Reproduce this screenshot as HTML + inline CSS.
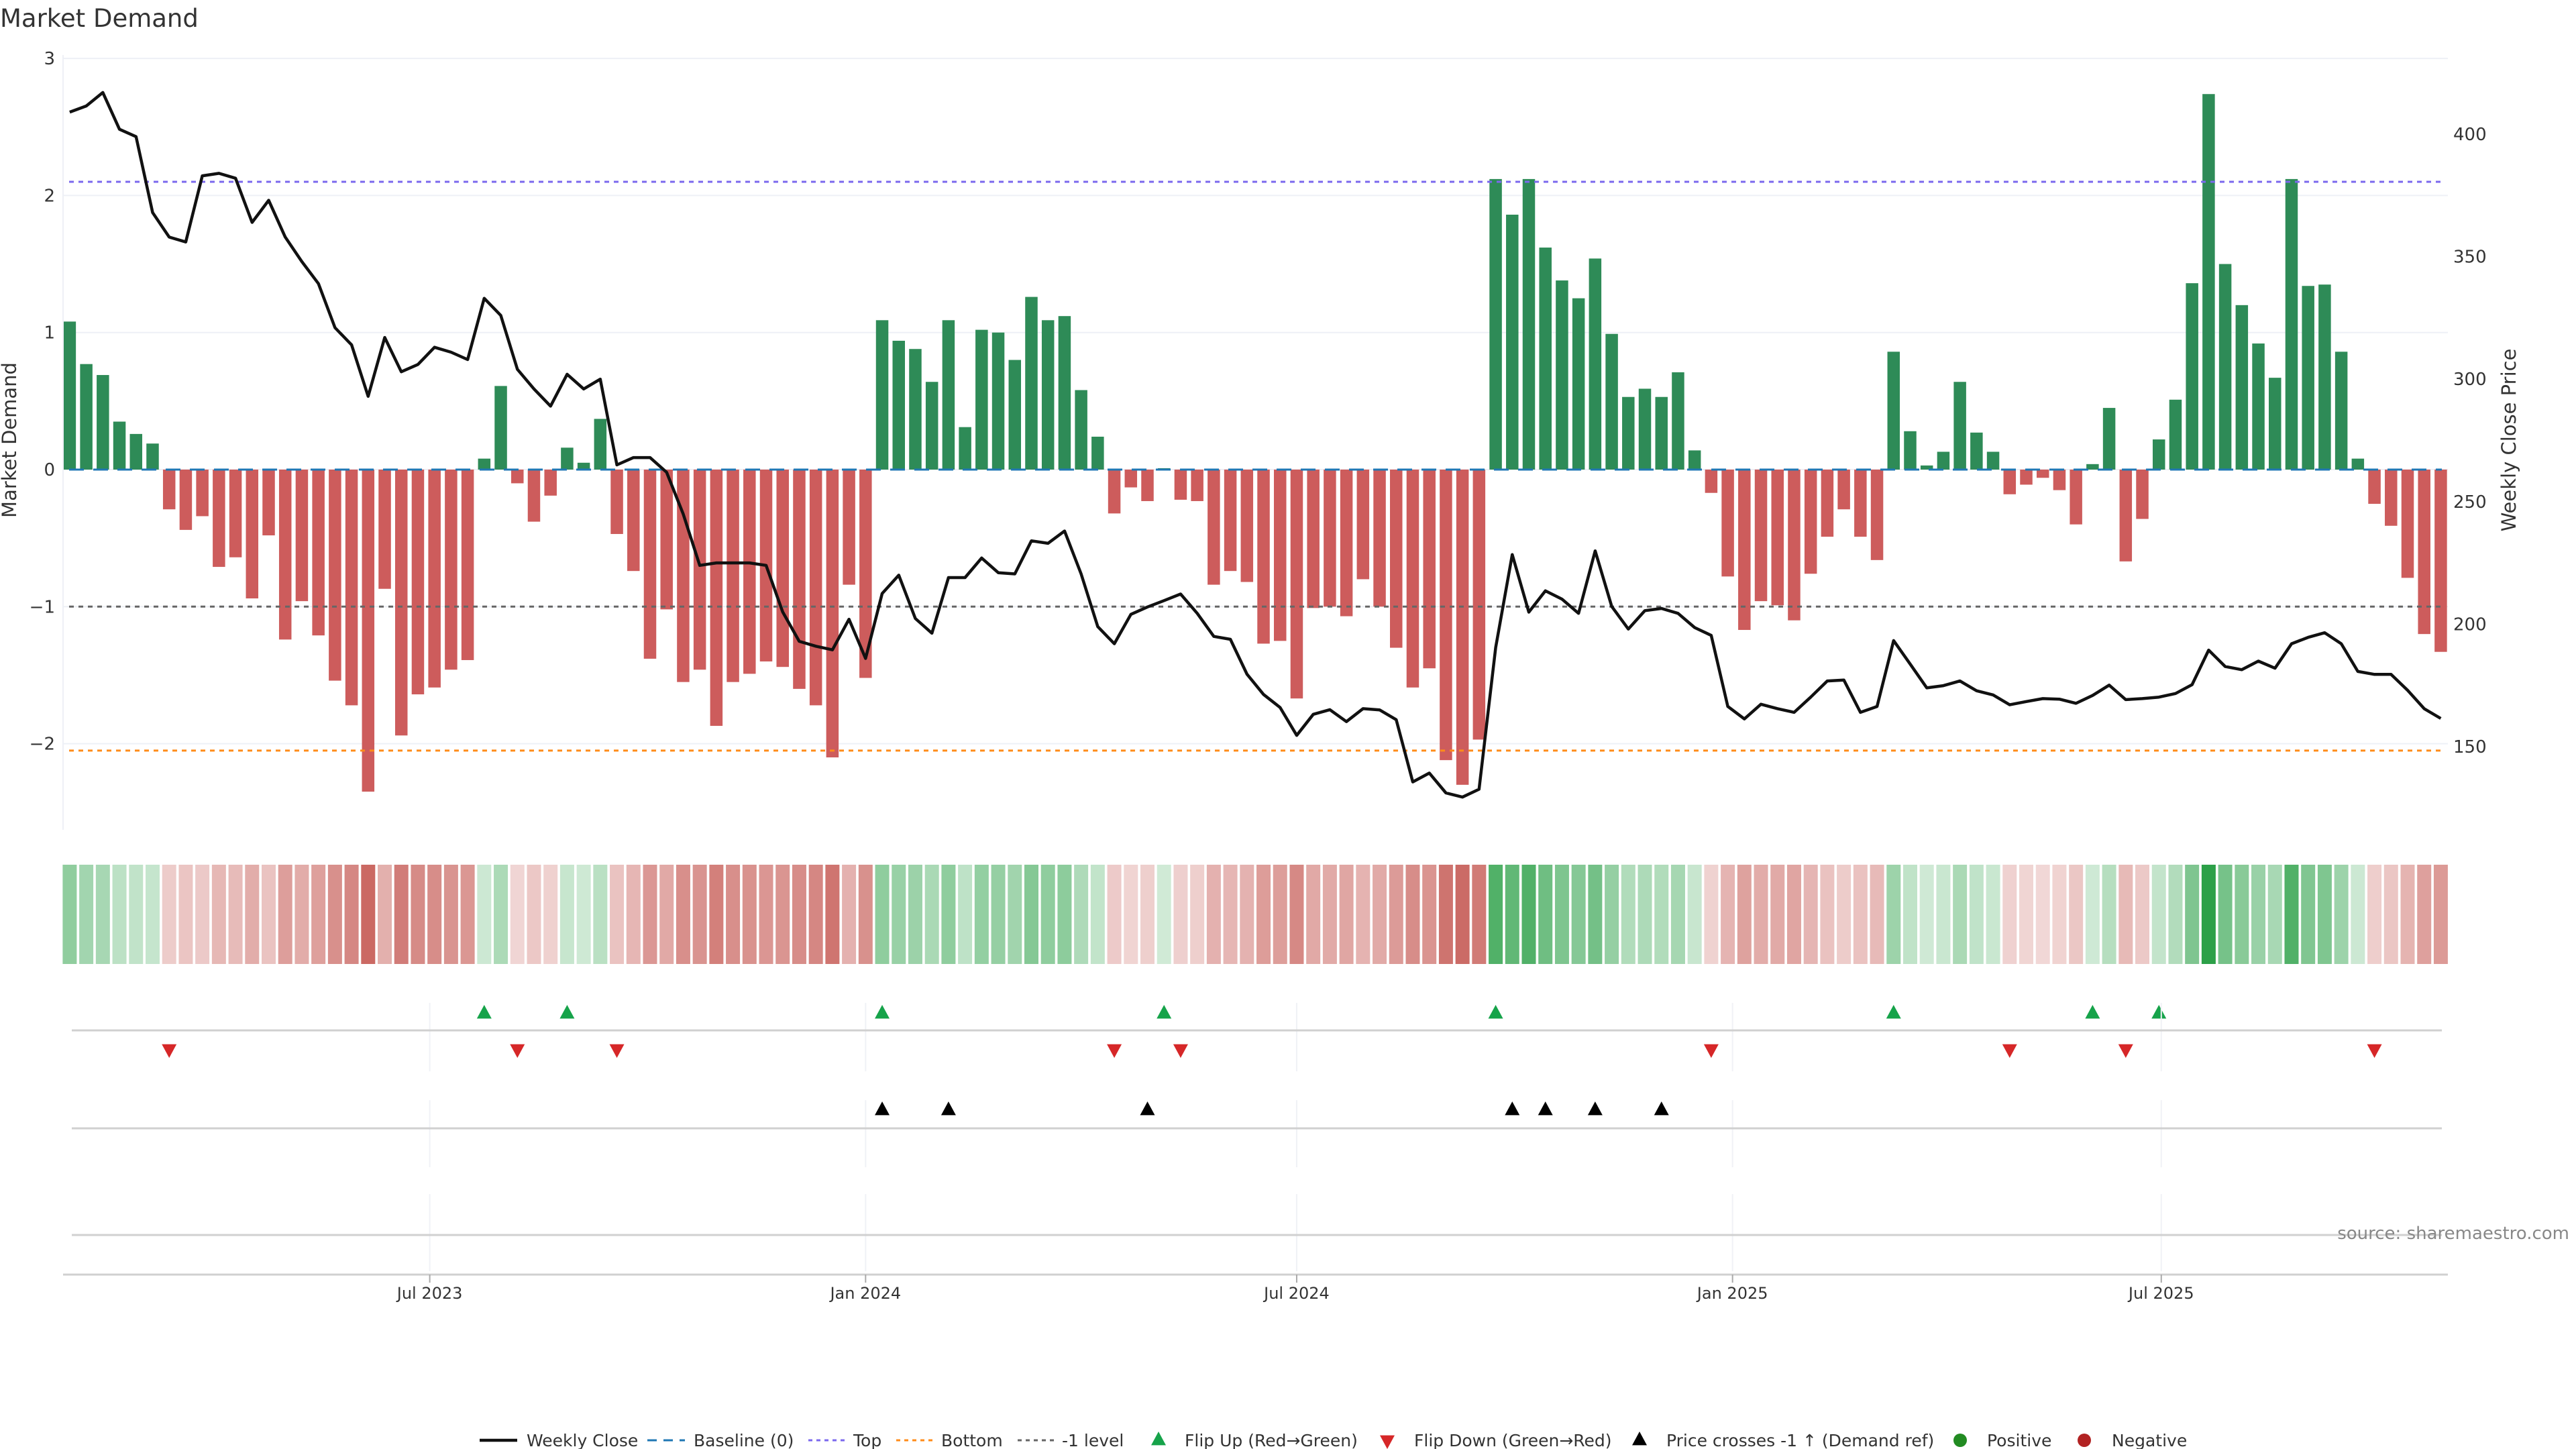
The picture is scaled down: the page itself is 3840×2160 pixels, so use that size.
<!DOCTYPE html>
<html><head><meta charset="utf-8">
<style>
html,body{margin:0;padding:0;background:#fff;}
svg{display:block;font-family:"DejaVu Sans","Liberation Sans",sans-serif;}
</style></head>
<body>
<svg id="chart" width="3840" height="2160" viewBox="0 0 3840 2160" xmlns="http://www.w3.org/2000/svg">
<text x="0" y="40" font-size="37" fill="#333">Market Demand</text>
<g id="grid"></g><g id="bars"></g><g id="refs"></g><g id="line"></g><g id="strip"></g><g id="markers"></g><g id="axes"></g>
<text transform="translate(24,656) rotate(-90)" text-anchor="middle" font-size="29" fill="#333">Market Demand</text>
<text transform="translate(3750,656) rotate(-90)" text-anchor="middle" font-size="29" fill="#333">Weekly Close Price</text>
<text x="3830" y="1847" text-anchor="end" font-size="26" fill="#888">source: sharemaestro.com</text>
<g id="legend"></g>
</svg>
<script>
const startDate = "2023-01-30";
const demand = [1.08,0.77,0.69,0.35,0.26,0.19,-0.29,-0.44,-0.34,-0.71,-0.64,-0.94,-0.48,-1.24,-0.96,-1.21,-1.54,-1.72,-2.35,-0.87,-1.94,-1.64,-1.59,-1.46,-1.39,0.08,0.61,-0.10,-0.38,-0.19,0.16,0.05,0.37,-0.47,-0.74,-1.38,-1.02,-1.55,-1.46,-1.87,-1.55,-1.49,-1.40,-1.44,-1.60,-1.72,-2.10,-0.84,-1.52,
1.09,0.94,0.88,0.64,1.09,0.31,1.02,1.00,0.80,1.26,1.09,1.12,0.58,0.24,-0.32,-0.13,-0.23,0.01,-0.22,-0.23,-0.84,-0.74,-0.82,-1.27,-1.25,-1.67,-1.01,-1.00,-1.07,-0.80,-1.00,-1.30,-1.59,-1.45,-2.12,-2.30,-1.97,
2.12,1.86,2.12,1.62,1.38,1.25,1.54,0.99,0.53,0.59,0.53,0.71,0.14,
-0.17,-0.78,-1.17,-0.96,-0.99,-1.10,-0.76,-0.49,-0.29,-0.49,-0.66,0.86,0.28,0.03,0.13,0.64,0.27,0.13,-0.18,-0.11,-0.06,-0.15,-0.40,0.04,0.45,-0.67,-0.36,0.22,0.51,1.36,2.74,1.50,1.20,0.92,0.67,2.12,1.34,1.35,0.86,0.08,-0.25,-0.41,-0.79,-1.20,-1.33];
const price = [409,411.5,417,402,399,368,358,356,383,384,382,364,373,358,348,339,321,314,293,317,303,306,313,311,308,333,326,304,296,289,302,296,300,265,268,268,262,245,224,225,225,225,224,205,193,191,189.5,202,186,
212.5,220,202.3,196.3,219,219,227,221,220.5,234,233,238,220.5,199,192,204,207,209.6,212.3,204.4,195,193.8,179.6,171.3,166,154.6,163.2,165.1,160.2,165.5,165,161,135.6,139.2,131.1,129.4,132.6,
190.5,228.4,204.9,213.6,210.2,204.4,229.9,207.2,198,205.5,206.4,204.4,198.6,
195.4,166.4,161.3,167.3,165.5,164,170.2,176.8,177.2,164,166.4,193.3,183.7,174,174.9,176.8,172.8,171.1,167.1,168.4,169.6,169.4,167.7,170.9,175.1,169.2,169.6,170.2,171.7,175.3,189.4,182.7,181.4,184.9,182,192,194.6,196.5,192,180.7,179.5,179.5,173,165.5,161.5];
const leftTicks = [-2,-1,0,1,2,3];
const rightTicks = [150,200,250,300,350,400];
const xTickDates = ["2023-07-01","2024-01-01","2024-07-01","2025-01-01","2025-07-01"];
const xTickLabels = ["Jul 2023","Jan 2024","Jul 2024","Jan 2025","Jul 2025"];
const topLevel = 2.1, bottomLevel = -2.05, minusOneLevel = -1;
const priceRef = 206;

const NS="http://www.w3.org/2000/svg";
function mk(parent,tag,attrs){const e=document.createElementNS(NS,tag);for(const k in attrs)e.setAttribute(k,attrs[k]);document.getElementById(parent).appendChild(e);return e;}
const X0=94, X1=3649;
const t0=Date.parse(startDate+"T00:00:00Z");
function days(d){return (Date.parse(d+"T00:00:00Z")-t0)/86400000;}
function xDays(dd){return 103.9+dd*3.531;}
function xi(i){return xDays(i*7);}
function y(v){return 700-v*204.3;}
function yp(p){return 200+(400-p)*3.652;}
const bw=18.5;

// grid
leftTicks.forEach(v=>{
  const l=mk('grid','line',{x1:X0,x2:X1,y1:y(v),y2:y(v),stroke:'#eef0f6','stroke-width':2});
  
  
  const t=mk('axes','text',{x:82,y:y(v)+9,'text-anchor':'end','font-size':26,fill:'#333'});
  
  
  t.textContent=v<0?'\u2212'+Math.abs(v):String(v);
});
rightTicks.forEach(v=>{
  const t=mk('axes','text',{x:3657,y:yp(v)+9,'font-size':26,fill:'#333'});
  
  
  t.textContent=v;
});
const la=mk('axes','line',{x1:X0,x2:X0,y1:82,y2:1237,stroke:'#eef0f6','stroke-width':2});



// bars
demand.forEach((v,i)=>{
  const r=mk('bars','rect',{x:xi(i)-bw/2,y:Math.min(y(0),y(v)),width:bw,height:Math.abs(y(v)-y(0)),fill:v>=0?'#2e8b57':'#cd5c5c'});
  
  
});
// ref lines
function ref(v,color,dash,name){const l=mk('refs','line',{x1:103,x2:3640,y1:y(v),y2:y(v),stroke:color,'stroke-width':3,'stroke-dasharray':dash});
  
  }
ref(0,'#1f77b4','22 14','baseline-line');
ref(topLevel,'#7b68ee','7 7','top-level-line');
ref(bottomLevel,'#ff8c1a','7 7','bottom-level-line');
ref(minusOneLevel,'#666','7 7','minus-one-level-line');

// price line
const pl=mk('line','polyline',{points:price.map((p,i)=>xi(i).toFixed(1)+','+yp(p).toFixed(1)).join(' '),fill:'none',stroke:'#111','stroke-width':4.5,'stroke-linejoin':'round'});



// heat strip
const maxAbs=Math.max(...demand.map(Math.abs));
function mix(c,a){return 'rgb('+c.map(ch=>Math.round(255*(1-a)+ch*a)).join(',')+')';}
demand.forEach((v,i)=>{
  const t=Math.min(Math.abs(v)/maxAbs,1), a=0.22+0.78*t;
  const r=mk('strip','rect',{x:xi(i)-10.5,y:1289,width:21,height:148,fill:v>=0?mix([44,160,72],a):mix([196,86,80],a)});
  
  
});

// subplot lines and grid
[[1495,1597,1536],[1640,1740,1682],[1780,1895,1841]].forEach(rw=>{
  xTickDates.forEach(d=>{const g=mk('axes','line',{x1:xDays(days(d)),x2:xDays(days(d)),y1:rw[0],y2:rw[1],stroke:'#f0f2f6','stroke-width':2});
    
    });
  const l=mk('axes','line',{x1:107,x2:3640,y1:rw[2],y2:rw[2],stroke:'#d0d0d0','stroke-width':3});
  
  
});
const xa=mk('axes','line',{x1:X0,x2:X1,y1:1900,y2:1900,stroke:'#d0d0d0','stroke-width':3});


xTickDates.forEach((d,k)=>{
  const x=xDays(days(d));
  const tk=mk('axes','line',{x1:x,x2:x,y1:1900,y2:1912,stroke:'#aaa','stroke-width':2});
  
  
  const t=mk('axes','text',{x:x,y:1936,'text-anchor':'middle','font-size':24,fill:'#333'});
  
  
  t.textContent=xTickLabels[k];
});

// markers
function tri(cx,cy,up,color,name){const s=11;
  const pts=up?[[cx-s,cy+s*0.85],[cx+s,cy+s*0.85],[cx,cy-s]]:[[cx-s,cy-s*0.85],[cx+s,cy-s*0.85],[cx,cy+s]];
  const p=mk('markers','polygon',{points:pts.map(q=>q.join(',')).join(' '),fill:color});
  
  }
for(let i=1;i<demand.length;i++){
  if(demand[i-1]<0&&demand[i]>=0)tri(xi(i),1509,true,'#16a34a','flip-up-marker');
  if(demand[i-1]>=0&&demand[i]<0)tri(xi(i),1566,false,'#d62728','flip-down-marker');
  if(price[i-1]<priceRef&&price[i]>=priceRef)tri(xi(i),1653,true,'#000','price-cross-marker');
}

// legend
const LY=2147;
function lt(x,txt){const t=mk('legend','text',{x:x,y:LY+9,'font-size':25,fill:'#333'});
  
  
  t.textContent=txt;}
function ll(x,color,dash,w){const l=mk('legend','line',{x1:x,x2:x+56,y1:LY,y2:LY,stroke:color,'stroke-width':w,'stroke-dasharray':dash});
  
  }
ll(715,'#111','none',4.5); lt(785,'Weekly Close');
ll(965,'#1f77b4','14 10',3); lt(1034,'Baseline (0)');
ll(1205,'#7b68ee','6 6',3); lt(1272,'Top');
ll(1336,'#ff8c1a','6 6',3); lt(1403,'Bottom');
ll(1517,'#666','6 6',3); lt(1583,'-1 level');
tri(1727,LY-2,true,'#16a34a','legend-flip-up'); lt(1766,'Flip Up (Red\u2192Green)');
tri(2068,LY+2,false,'#d62728','legend-flip-down'); lt(2108,'Flip Down (Green\u2192Red)');
tri(2444,LY-2,true,'#000','legend-price-cross'); lt(2484,'Price crosses -1 \u2191 (Demand ref)');
const c1=mk('legend','circle',{cx:2922,cy:LY,r:10,fill:'#228b22'});


lt(2962,'Positive');
const c2=mk('legend','circle',{cx:3107,cy:LY,r:10,fill:'#b22222'});


lt(3148,'Negative');
</script>
</body></html>
